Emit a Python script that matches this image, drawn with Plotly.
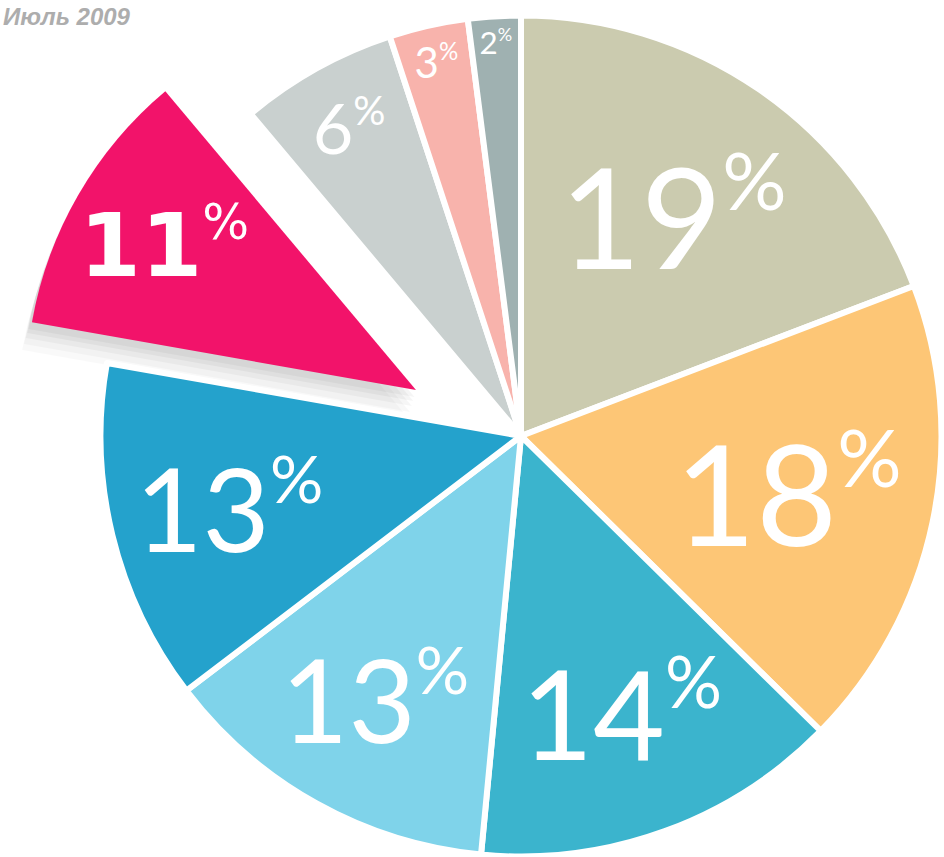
import plotly.graph_objects as go

# ---- data ----
shares = [19, 18, 14, 13, 13, 11, 6, 3, 2]
segments = ["Сегмент 1", "Сегмент 2", "Сегмент 3", "Сегмент 4", "Сегмент 5",
            "Сегмент 6", "Сегмент 7", "Сегмент 8", "Сегмент 9"]
colors = ["#cbcbaf", "#fdc676", "#3bb4cd", "#7fd3ea", "#24a2cc",
          "#f2136a", "#c9d0cf", "#f8b3ac", "#9fb1b1"]
label_sizes = [140, 140, 124, 116, 116, 96, 70, 42, 38]
highlight = 5          # slice that is pulled out
date_label = "Июль 2009"

W, H = 944, 857
CLEAR = "rgba(0,0,0,0)"
N = len(shares)

texts = [f'{v}<sup><span style="font-size:82%">%</span></sup>' for v in shares]
texts_bold = [f'<b>{v}</b><sup><span style="font-size:80%">%</span></sup>' for v in shares]


def box(cx, cy, r):
    """pie domain (paper coords) for a pie centred at (cx, cy) px with radius r px"""
    return dict(x=[(cx - r) / W, (cx + r) / W],
                y=[1 - (cy + r) / H, 1 - (cy - r) / H])


common = dict(labels=segments, values=shares, sort=False, direction="clockwise",
              rotation=0, insidetextorientation="horizontal",
              showlegend=False, textinfo="text")

fig = go.Figure()

# soft shadow under the pulled slice
for dy, alpha in [(26, 0.022), (20, 0.028), (14, 0.034), (9, 0.04), (5, 0.04)]:
    fig.add_trace(go.Pie(
        **common,
        textposition="none",
        marker=dict(colors=[f"rgba(0,0,0,{alpha})" if i == highlight else CLEAR
                            for i in range(N)],
                    line=dict(width=0)),
        domain=box(416 - dy * 0.3, 392 + dy, 392),
        hoverinfo="skip",
    ))

# main pie (pulled slice left empty)
fig.add_trace(go.Pie(
    **common,
    text=texts,
    textposition=["none" if i == highlight else "inside" for i in range(N)],
    marker=dict(colors=[CLEAR if i == highlight else c for i, c in enumerate(colors)],
                line=dict(color=[CLEAR if i == highlight else "white"
                                 for i in range(N)], width=6)),
    insidetextfont=dict(family="Lato", color="white", size=label_sizes),
    domain=box(521, 436, 420.5),
))

# pulled-out slice
fig.add_trace(go.Pie(
    **common,
    text=texts_bold,
    textposition=["inside" if i == highlight else "none" for i in range(N)],
    marker=dict(colors=[c if i == highlight else CLEAR for i, c in enumerate(colors)],
                line=dict(width=0)),
    insidetextfont=dict(family="DejaVu Sans", color="white", size=label_sizes),
    domain=box(416, 390, 390),
))

fig.add_annotation(
    text=f"<b><i>{date_label}</i></b>", xref="paper", yref="paper",
    x=1 / W, y=1 - 1 / H, xanchor="left", yanchor="top", showarrow=False,
    font=dict(family="Liberation Sans", size=24, color="#adadad"),
)

fig.update_layout(
    width=W, height=H, margin=dict(l=0, r=0, t=0, b=0),
    paper_bgcolor="white", plot_bgcolor="white",
)

fig.write_html("out.html", config={"displayModeBar": False},
               post_script="document.body.style.margin='0';document.body.style.overflow='hidden';")
